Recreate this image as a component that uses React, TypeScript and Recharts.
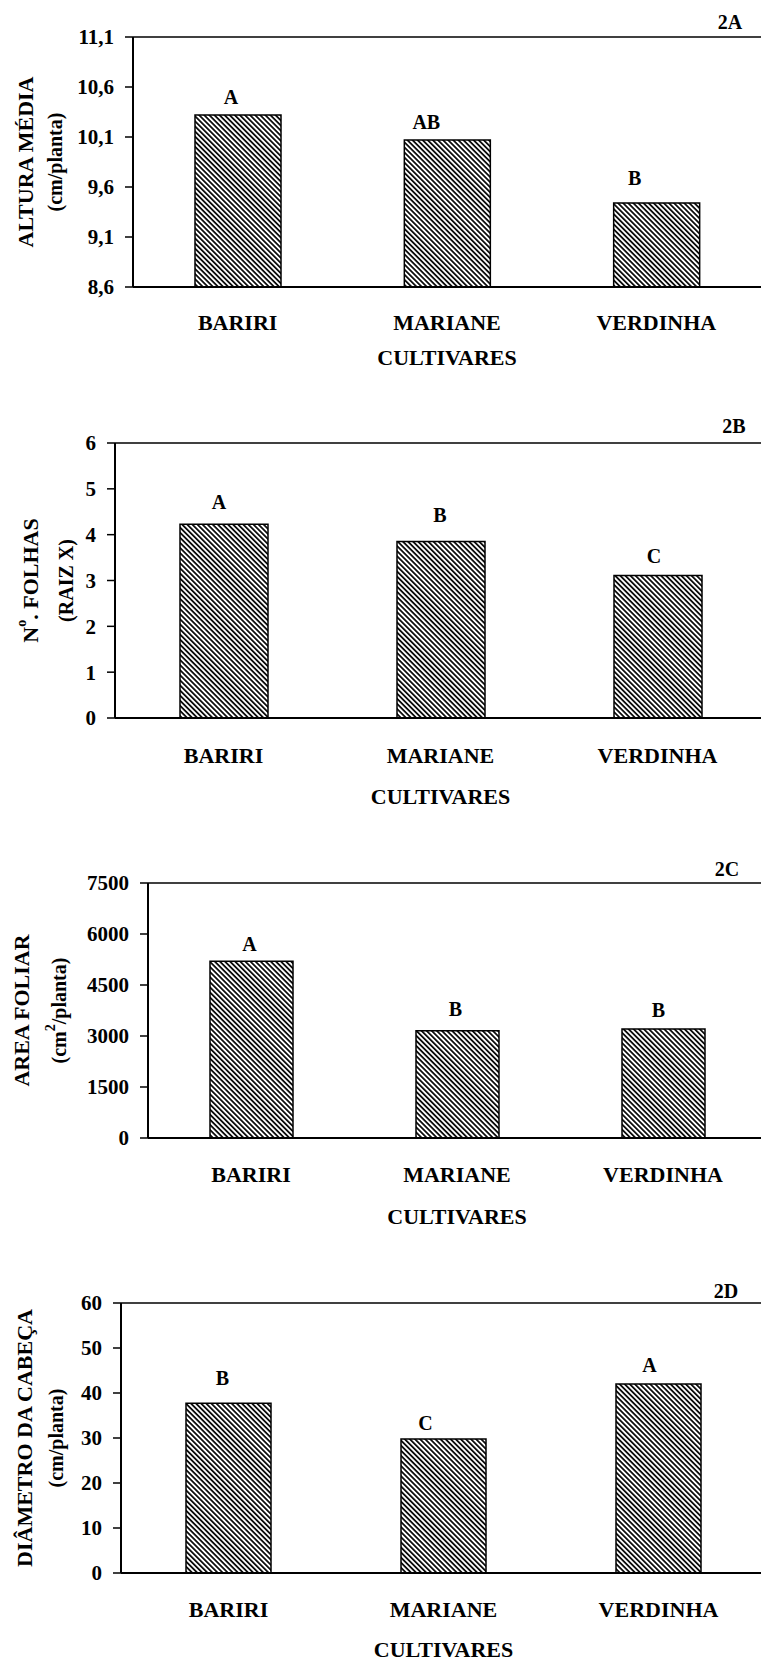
import React from 'react';
import { BarChart, Bar, XAxis, YAxis, ReferenceLine, LabelList } from 'recharts';

// ---------- data ----------
const cultivares = ['BARIRI', 'MARIANE', 'VERDINHA'];

const alturaMedia = [10.32, 10.07, 9.44];
const alturaLetras = ['A', 'AB', 'B'];
const alturaTicks = [8.6, 9.1, 9.6, 10.1, 10.6, 11.1];

const numeroFolhas = [4.23, 3.85, 3.11];
const folhasLetras = ['A', 'B', 'C'];
const folhasTicks = [0, 1, 2, 3, 4, 5, 6];

const areaFoliar = [5195, 3155, 3205];
const areaLetras = ['A', 'B', 'B'];
const areaTicks = [0, 1500, 3000, 4500, 6000, 7500];

const diametroCabeca = [37.7, 29.8, 42.0];
const diametroLetras = ['B', 'C', 'A'];
const diametroTicks = [0, 10, 20, 30, 40, 50, 60];

const FONT = '"Liberation Serif", "Times New Roman", serif';

type Panel = {
  id: string;
  values: number[];
  letters: string[];
  ticks: number[];
  decimals: boolean;
  main: React.ReactNode;
  sub: React.ReactNode;
  divTop: number;
  plotTop: number;
  plotH: number;
  left: number;
  width: number;
  barSize: number;
  xTickMargin: number;
  cultOffset: number;
  idX: number;
  idRise: number;
  mainX: number;
  subX: number;
  letterDx: number[];
  letterGap: number[];
};

const panels: Panel[] = [
  {
    id: '2A', values: alturaMedia, letters: alturaLetras, ticks: alturaTicks, decimals: true,
    main: 'ALTURA MÉDIA', sub: '(cm/planta)',
    divTop: 0, plotTop: 37, plotH: 250, left: 133, width: 761, barSize: 86,
    xTickMargin: 27, cultOffset: 78, idX: 730, idRise: 15, mainX: 25, subX: 55,
    letterDx: [-7, -21, -22], letterGap: [18, 18, 25],
  },
  {
    id: '2B', values: numeroFolhas, letters: folhasLetras, ticks: folhasTicks, decimals: false,
    main: (
      <>
        <tspan>N</tspan>
        <tspan dy={-9} fontSize={14}>o</tspan>
        <tspan dy={9}>. FOLHAS</tspan>
      </>
    ),
    sub: '(RAIZ X)',
    divTop: 406, plotTop: 37, plotH: 275, left: 115, width: 766, barSize: 88,
    xTickMargin: 29, cultOffset: 86, idX: 734, idRise: 17, mainX: 30, subX: 66,
    letterDx: [-5, -1, -4], letterGap: [22, 26, 19],
  },
  {
    id: '2C', values: areaFoliar, letters: areaLetras, ticks: areaTicks, decimals: false,
    main: 'AREA FOLIAR',
    sub: (
      <>
        <tspan>(cm</tspan>
        <tspan dy={-9} fontSize={14}>2</tspan>
        <tspan dy={9}>/planta)</tspan>
      </>
    ),
    divTop: 846, plotTop: 37, plotH: 255, left: 148, width: 766, barSize: 83,
    xTickMargin: 28, cultOffset: 86, idX: 727, idRise: 14, mainX: 21, subX: 59,
    letterDx: [-2, -2, -5], letterGap: [17, 21, 19],
  },
  {
    id: '2D', values: diametroCabeca, letters: diametroLetras, ticks: diametroTicks, decimals: false,
    main: 'DIÂMETRO DA CABEÇA', sub: '(cm/planta)',
    divTop: 1266, plotTop: 37, plotH: 270, left: 121, width: 766, barSize: 85,
    xTickMargin: 28, cultOffset: 84, idX: 726, idRise: 12, mainX: 24, subX: 56,
    letterDx: [-6, -18, -9], letterGap: [25, 16, 19],
  },
];

const YTitle = (props: any) => {
  const { viewBox, p } = props;
  const cy = viewBox.y + viewBox.height / 2;
  return (
    <g>
      <text
        x={p.mainX}
        y={cy}
        transform={`rotate(-90 ${p.mainX} ${cy})`}
        textAnchor="middle"
        dominantBaseline="central"
        fontFamily={FONT}
        fontWeight={700}
        fontSize={22}
        fill="#000"
      >
        {p.main}
      </text>
      <text
        x={p.subX}
        y={cy}
        transform={`rotate(-90 ${p.subX} ${cy})`}
        textAnchor="middle"
        dominantBaseline="central"
        fontFamily={FONT}
        fontWeight={700}
        fontSize={20}
        fill="#000"
      >
        {p.sub}
      </text>
    </g>
  );
};

const XTitle = (props: any) => {
  const { viewBox, p } = props;
  return (
    <text
      x={viewBox.x + viewBox.width / 2}
      y={viewBox.y + p.cultOffset}
      textAnchor="middle"
      fontFamily={FONT}
      fontWeight={700}
      fontSize={22}
      fill="#000"
    >
      CULTIVARES
    </text>
  );
};

const IdTag = (props: any) => {
  const { viewBox, p } = props;
  return (
    <text
      x={p.idX}
      y={viewBox.y - p.idRise + 6.6}
      textAnchor="middle"
      fontFamily={FONT}
      fontWeight={700}
      fontSize={20}
      fill="#000"
    >
      {p.id}
    </text>
  );
};

const makeLetter = (p: Panel) => (props: any) => {
  const { x, y, width, value, index } = props;
  const cx = Number(x) + Number(width) / 2 + p.letterDx[index];
  const by = Number(y) - p.letterGap[index] + 6.6;
  return (
    <text
      x={cx}
      y={by}
      textAnchor="middle"
      fontFamily={FONT}
      fontWeight={700}
      fontSize={20}
      fill="#000"
    >
      {value}
    </text>
  );
};

const PanelChart = ({ p }: { p: Panel }) => {
  const data = cultivares.map((name, i) => ({ name, value: p.values[i], letter: p.letters[i] }));
  const yMin = p.ticks[0];
  const yMax = p.ticks[p.ticks.length - 1];
  const height = p.plotTop + p.plotH + 100;
  const fmt = (v: number) => (p.decimals ? v.toFixed(1).replace('.', ',') : String(v));
  const pid = `hatch-${p.id}`;
  return (
    <div style={{ position: 'absolute', left: 0, top: p.divTop, width: p.width, height }}>
      <BarChart
        width={p.width}
        height={height}
        data={data}
        margin={{ top: p.plotTop, right: 0, bottom: 0, left: 0 }}
        barCategoryGap={0}
      >
        <defs>
          <pattern id={pid} patternUnits="userSpaceOnUse" width={3.6} height={3.6} patternTransform="rotate(-45)">
            <rect x={0} y={0} width={3.6} height={3.6} fill="#fff" />
            <line x1={1.8} y1={0} x2={1.8} y2={3.6} stroke="#000" strokeWidth={1.7} />
          </pattern>
        </defs>
        <XAxis
          dataKey="name"
          interval={0}
          height={100}
          tickLine={false}
          tickSize={0}
          tickMargin={p.xTickMargin}
          axisLine={{ stroke: '#000', strokeWidth: 2 }}
          tick={{ fill: '#000', fontFamily: FONT, fontWeight: 700, fontSize: 22 }}
          label={<XTitle p={p} />}
        />
        <YAxis
          type="number"
          domain={[yMin, yMax]}
          ticks={p.ticks}
          interval={0}
          width={p.left}
          tickSize={8}
          tickMargin={11}
          tickFormatter={fmt}
          axisLine={{ stroke: '#000', strokeWidth: 2 }}
          tickLine={{ stroke: '#000', strokeWidth: 1.5 }}
          tick={{ fill: '#000', fontFamily: FONT, fontWeight: 700, fontSize: 21 }}
          label={<YTitle p={p} />}
        />
        <ReferenceLine y={yMax} stroke="#000" strokeWidth={1.5} label={<IdTag p={p} />} />
        <Bar
          dataKey="value"
          barSize={p.barSize}
          fill={`url(#${pid})`}
          stroke="#000"
          strokeWidth={1.5}
          isAnimationActive={false}
        >
          <LabelList dataKey="letter" content={makeLetter(p)} />
        </Bar>
      </BarChart>
    </div>
  );
};

export default function App() {
  return (
    <div
      style={{
        position: 'absolute',
        left: 0,
        top: 0,
        width: 761,
        height: 1663,
        overflow: 'hidden',
        background: '#fff',
      }}
    >
      {panels.map((p) => (
        <PanelChart key={p.id} p={p} />
      ))}
    </div>
  );
}
